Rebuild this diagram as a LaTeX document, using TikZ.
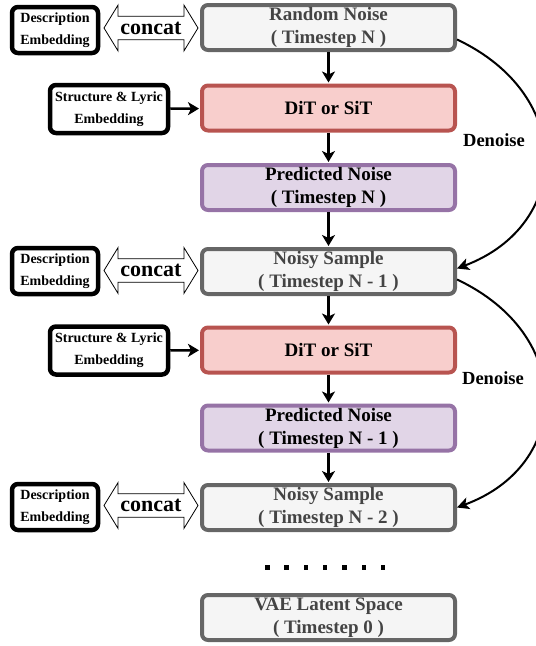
\documentclass[tikz,border=0pt]{standalone}
\usepackage{fontspec}
\setmainfont{Liberation Serif}
\usetikzlibrary{shapes.arrows,arrows.meta}
\definecolor{grayfill}{HTML}{F5F5F5}
\definecolor{grayline}{HTML}{666666}
\definecolor{graytext}{HTML}{444444}
\definecolor{redfill}{HTML}{F8CECC}
\definecolor{redline}{HTML}{B85450}
\definecolor{purplefill}{HTML}{E1D5E7}
\definecolor{purpleline}{HTML}{9673A6}
\begin{document}
\begin{tikzpicture}[x=1pt,y=-1pt,
    box/.style={rounded corners=6pt,line width=4pt,minimum width=253pt,minimum height=45pt,
        inner sep=0pt,align=center,font=\bfseries\fontsize{19}{23}\selectfont},
    graybox/.style={box,draw=grayline,fill=grayfill,text=graytext},
    redbox/.style={box,draw=redline,fill=redfill},
    purplebox/.style={box,draw=purpleline,fill=purplefill},
    embbox/.style={draw,rounded corners=6pt,line width=4.5pt,inner sep=0pt,align=center,
        font=\bfseries\fontsize{14}{22}\selectfont},
    concatarrow/.style={double arrow,draw,fill=white,line width=0.8pt,minimum height=94pt,
        minimum width=46pt,double arrow head extend=6.5pt,double arrow tip angle=117,
        inner sep=0pt,font=\bfseries\fontsize{22}{24}\selectfont},
    flow/.style={line width=2.5pt,-{Stealth[length=11pt,width=13pt,inset=3pt]},shorten >=1pt},
    denoise/.style={line width=2pt,-{Stealth[length=12pt,width=12pt,inset=3pt]}},
    lbl/.style={font=\bfseries\fontsize{18.5}{20}\selectfont}]
    \useasboundingbox (0,0) rectangle (536,646);
    % main column
    \node[graybox] (noise) at (328.5,27.5) {Random Noise\\( Timestep N )};
    \node[redbox] (dit1) at (328.5,108) {DiT or SiT};
    \node[purplebox] (pred1) at (328.5,187.5) {Predicted Noise\\( Timestep N )};
    \node[graybox] (sample1) at (328.5,271.5) {Noisy Sample\\( Timestep N - 1 )};
    \node[redbox] (dit2) at (328.5,350) {DiT or SiT};
    \node[purplebox] (pred2) at (328.5,428) {Predicted Noise\\( Timestep N - 1 )};
    \node[graybox] (sample2) at (328.5,507.5) {Noisy Sample\\( Timestep N - 2 )};
    \node[graybox] (latent) at (328.5,617.5) {VAE Latent Space\\( Timestep 0 )};
    % left side
    \node[embbox,minimum width=86pt,minimum height=46pt] (desc1) at (55,30) {Description\\Embedding};
    \node[embbox,minimum width=86pt,minimum height=46pt] (desc2) at (55,271) {Description\\Embedding};
    \node[embbox,minimum width=86pt,minimum height=46pt] (desc3) at (55,507) {Description\\Embedding};
    \node[embbox,minimum width=118pt,minimum height=48pt] (struct1) at (109,109) {Structure \& Lyric\\Embedding};
    \node[embbox,minimum width=118pt,minimum height=48pt] (struct2) at (109,350.5) {Structure \& Lyric\\Embedding};
    \node[concatarrow] (concat1) at (151,28) {concat};
    \node[concatarrow] (concat2) at (151,270.5) {concat};
    \node[concatarrow] (concat3) at (151,505.5) {concat};
    % arrows
    \draw[flow] (noise) -- (dit1);
    \draw[flow] (dit1) -- (pred1);
    \draw[flow] (pred1) -- (sample1);
    \draw[flow] (sample1) -- (dit2);
    \draw[flow] (dit2) -- (pred2);
    \draw[flow] (pred2) -- (sample2);
    \draw[flow] (struct1) -- (dit1);
    \draw[flow] (struct2) -- (dit2);
    % denoise loops
    \draw[denoise] ([yshift=-12pt]noise.east) .. controls (575,95) and (572,225) .. ([yshift=3pt]sample1.east);
    \draw[denoise] ([yshift=-8pt]sample1.east) .. controls (575,335) and (572,465) .. (sample2.east);
    \node[lbl] (den1) at (494,140) {Denoise};
    \node[lbl] (den2) at (493,378) {Denoise};
    % dots
    \foreach \i in {0,...,6}
        \fill (267+19.3*\i-2,565) rectangle ++(4.5,4.5);
\end{tikzpicture}
\end{document}
